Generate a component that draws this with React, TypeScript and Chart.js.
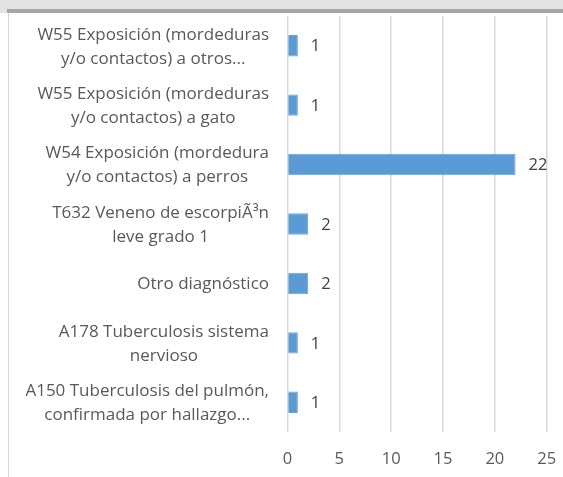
import React, { useEffect, useRef } from 'react';
import { Chart, registerables } from 'chart.js';

Chart.register(...registerables);

const categories: string[][] = [
  ['W55 Exposición (mordeduras', 'y/o contactos) a otros...'],
  ['W55 Exposición (mordeduras', 'y/o contactos) a gato'],
  ['W54 Exposición (mordedura', 'y/o contactos) a perros'],
  ['T632 Veneno de escorpiÃ³n', 'leve grado 1'],
  ['Otro diagnóstico'],
  ['A178 Tuberculosis sistema', 'nervioso'],
  ['A150 Tuberculosis del pulmón,', 'confirmada por hallazgo...'],
];
const values: number[] = [1, 1, 22, 2, 2, 1, 1];
const xMin = 0;
const xMax = 25;
const xStep = 5;

const FONT = '"Open Sans"';
const LABEL_COLOR = '#595959';
const VALUE_COLOR = '#404040';
const BAR_COLOR = '#5B9BD5';

const categoryLabelPlugin = {
  id: 'categoryLabels',
  afterDraw(chart: any) {
    const ctx = chart.ctx;
    const yScale = chart.scales.y;
    ctx.save();
    ctx.font = `17px ${FONT}`;
    ctx.fillStyle = LABEL_COLOR;
    ctx.textBaseline = 'middle';
    ctx.textAlign = 'center';
    const rightX = chart.chartArea.left - 18.5;
    const lineH = 24;
    categories.forEach((lines, i) => {
      const cy = yScale.getPixelForTick(i);
      const w = Math.max(...lines.map((l) => ctx.measureText(l).width));
      const cx = rightX - w / 2;
      lines.forEach((l, j) => {
        ctx.fillText(l, cx, cy + (j - (lines.length - 1) / 2) * lineH + 1);
      });
    });
    ctx.restore();
  },
};

const valueLabelPlugin = {
  id: 'valueLabels',
  afterDatasetsDraw(chart: any) {
    const ctx = chart.ctx;
    const meta = chart.getDatasetMeta(0);
    ctx.save();
    ctx.font = `16.5px ${FONT}`;
    ctx.fillStyle = VALUE_COLOR;
    ctx.textBaseline = 'middle';
    ctx.textAlign = 'left';
    meta.data.forEach((bar: any, i: number) => {
      ctx.fillText(String(values[i]), bar.x + 13, bar.y + 1);
    });
    ctx.restore();
  },
};

export default function App() {
  const ref = useRef<HTMLCanvasElement>(null);

  useEffect(() => {
    if (!ref.current) return;
    const chart = new Chart(ref.current, {
      type: 'bar',
      data: {
        labels: categories.map((c) => c.join(' ')),
        datasets: [
          {
            data: values,
            backgroundColor: BAR_COLOR,
            borderColor: '#6AA5DA',
            borderWidth: 1,
            categoryPercentage: 1,
            barPercentage: 0.36,
          },
        ],
      },
      options: {
        indexAxis: 'y',
        animation: false,
        responsive: false,
        devicePixelRatio: 1,
        layout: { padding: { left: 278.5, right: 16.3, top: 3, bottom: 0 } },
        plugins: {
          legend: { display: false },
          tooltip: { enabled: false },
          title: { display: false },
        },
        scales: {
          y: {
            display: false,
          },
          x: {
            min: xMin,
            max: xMax,
            border: { display: false },
            grid: { color: '#d9d9d9', lineWidth: 1.5, drawTicks: false },
            ticks: {
              stepSize: xStep,
              padding: 17.5,
              color: LABEL_COLOR,
              font: { family: FONT, size: 16.5 },
            },
            afterFit: (scale: any) => {
              scale.height = 45;
              scale.paddingLeft = 0;
              scale.paddingRight = 0;
            },
          },
        },
      },
      plugins: [categoryLabelPlugin, valueLabelPlugin],
    });
    return () => chart.destroy();
  }, []);

  return (
    <div
      style={{
        position: 'fixed',
        left: 0,
        top: 0,
        width: 563,
        height: 477,
        background: '#ffffff',
        overflow: 'hidden',
      }}
    >
      <div style={{ position: 'absolute', left: 0, top: 0, width: 563, height: 13, background: '#e3e3e3' }} />
      <div style={{ position: 'absolute', left: 7, top: 9, width: 556, height: 4, background: '#a6a6a6' }} />
      <div style={{ position: 'absolute', left: 8, top: 13, width: 1, height: 464, background: '#d9d9d9' }} />
      <canvas ref={ref} width={554} height={464} style={{ position: 'absolute', left: 9, top: 13 }} />
    </div>
  );
}
